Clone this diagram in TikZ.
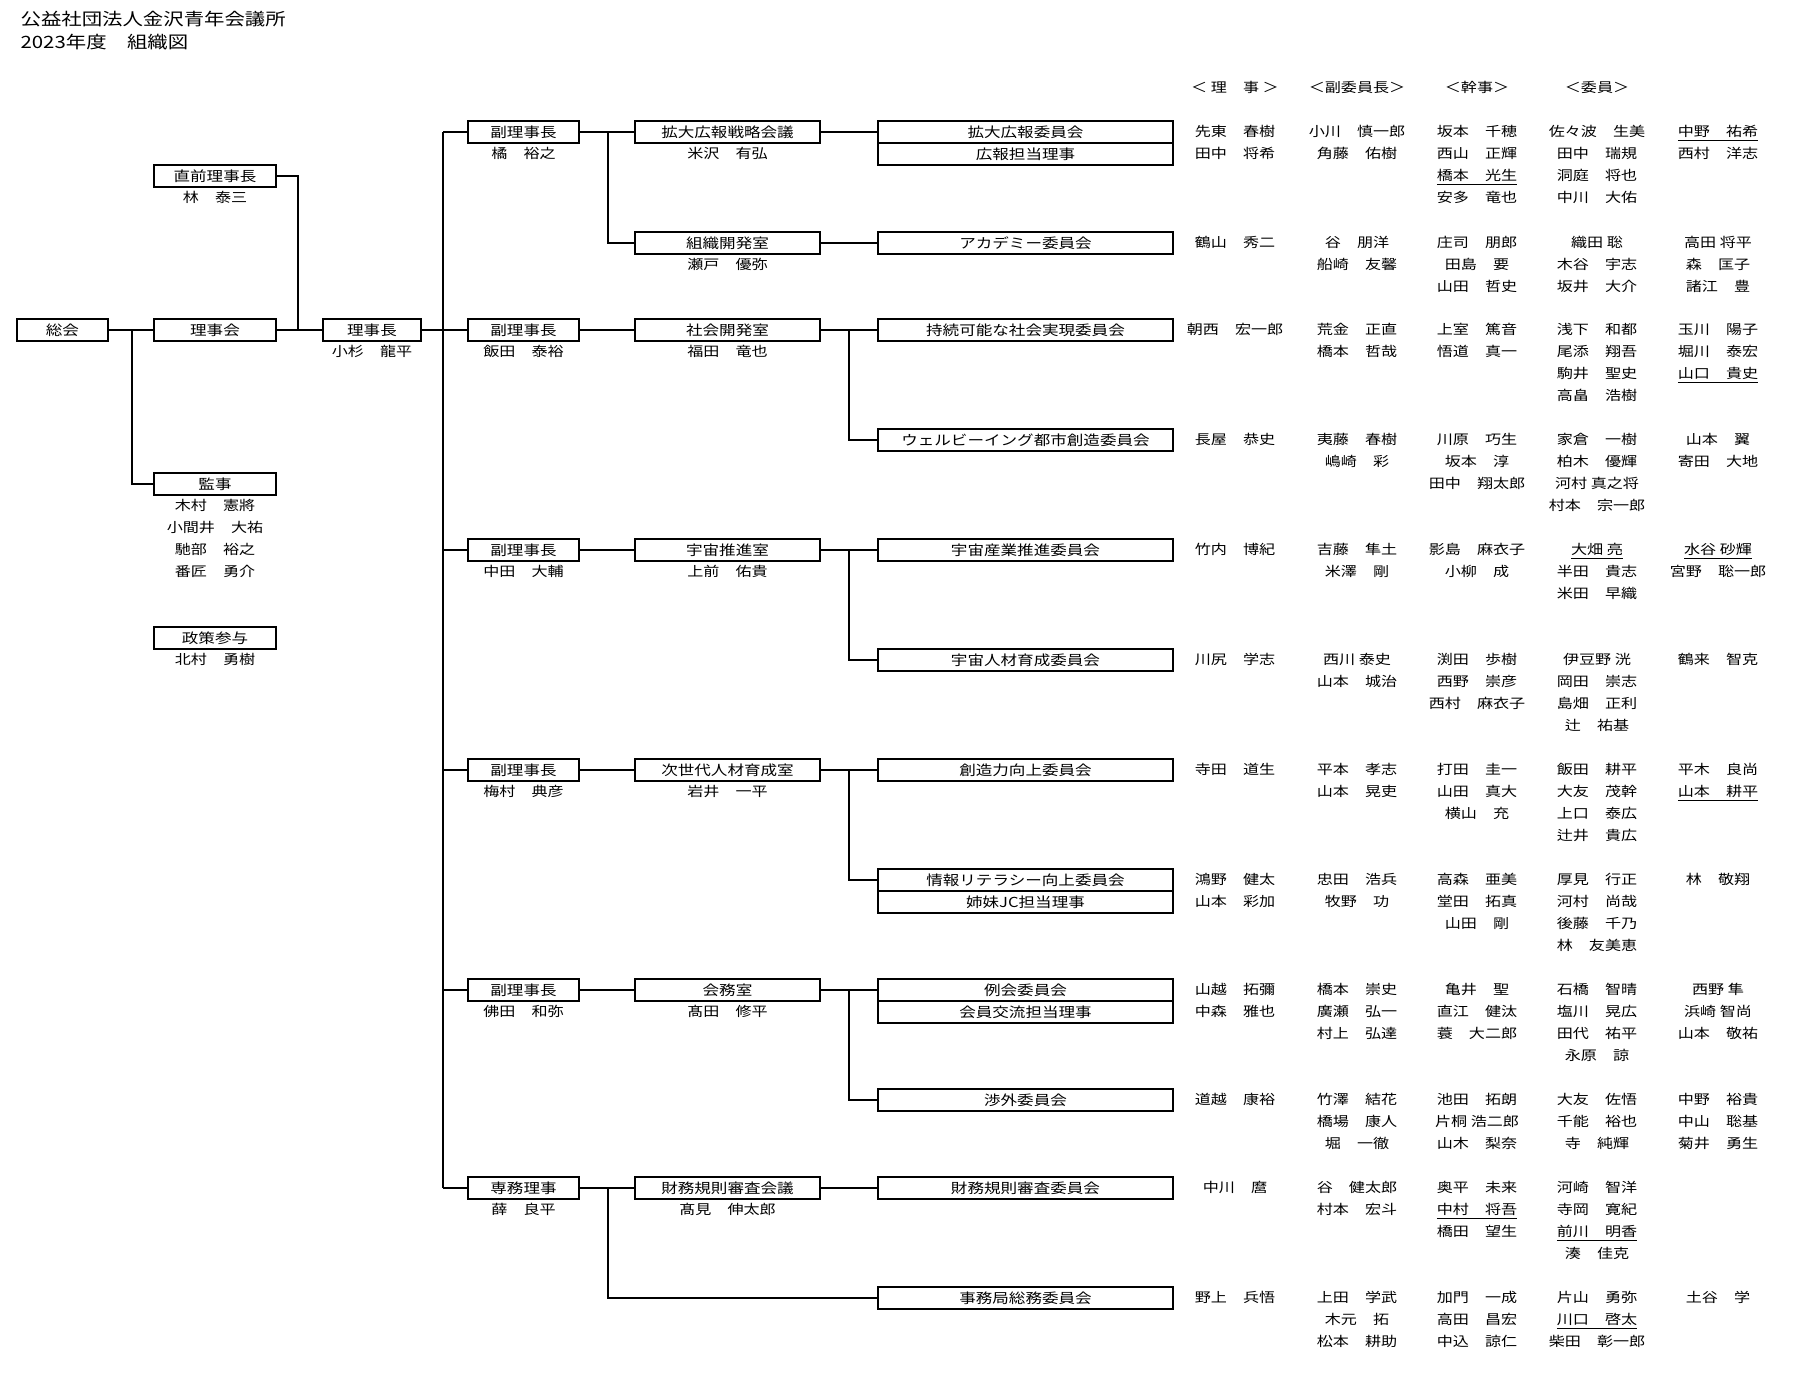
\documentclass[tikz,border=0pt]{standalone}
\usepackage{fontspec}
\setmainfont{Noto Sans CJK JP}[FakeStretch=1.2]
\usepackage{tikz}

\begin{document}
\begin{tikzpicture}[x=0.5pt,y=-0.5pt,line width=0.6pt,
    box/.style={draw,rectangle,inner sep=0pt,minimum height=11pt,font=\fontsize{6.9pt}{8pt}\selectfont},
    sokaibox/.style={box,minimum width=45.5pt},
    leftbox/.style={box,minimum width=61pt},
    chobox/.style={box,minimum width=49pt},
    fukubox/.style={box,minimum width=55.5pt},
    shitsubox/.style={box,minimum width=92.5pt},
    iinbox/.style={box,minimum width=147.5pt},
    nm/.style={inner sep=0pt,font=\fontsize{6.7pt}{11pt}\selectfont},
    col/.style={nm,anchor=north,align=center}]
            \useasboundingbox (0,0) rectangle (1816,1380);
            \node[anchor=north west,align=left,inner sep=0pt,font=\fontsize{8.5pt}{11.5pt}\selectfont] (title) at (20,11) {公益社団法人金沢青年会議所\\2023年度　組織図};

            \node[sokaibox] (sokai) at (62.5,330) {総会};
            \node[leftbox] (zenriji) at (215,176) {直前理事長};
            \node[nm] (zenrijin) at (215,197) {林　泰三};
            \node[leftbox] (rijikai) at (215,330) {理事会};
            \node[leftbox] (kanji) at (215,484) {監事};
            \node[col] (kanjin) at (215,499) {木村　憲將\\小間井　大祐\\馳部　裕之\\番匠　勇介};
            \node[leftbox] (seisaku) at (215,638) {政策参与};
            \node[nm] (seisakun) at (215,659) {北村　勇樹};
            \node[chobox] (rijicho) at (372,330) {理事長};
            \node[nm] (rijichon) at (372,351) {小杉　龍平};

            \coordinate (jsokai) at (132,330);
            \coordinate (jriji) at (298,330);
            \coordinate (trunktop) at (443,132);
            \coordinate (trunkbot) at (443,1188);
            \draw (sokai) -- (rijikai);
            \draw (jsokai) |- (kanji.west);
            \draw (rijikai) -- (rijicho);
            \draw (zenriji.east) -| (jriji);
            \draw (rijicho.east) -- (rijicho.east -| trunktop);
            \draw (trunktop) -- (trunkbot);

            \node[fukubox] (fuku1) at (523.5,132) {副理事長};
            \node[nm] (fuku1n) at (523.5,153) {橘　裕之};
            \node[shitsubox] (shitsu1) at (727.5,132) {拡大広報戦略会議};
            \node[nm] (shitsu1n) at (727.5,153) {米沢　有弘};
            \node[shitsubox] (shitsu1b) at (727.5,243) {組織開発室};
            \node[nm] (shitsu1bn) at (727.5,264) {瀬戸　優弥};
            \node[iinbox] (iin1a) at (1025.5,132) {拡大広報委員会};
            \node[iinbox] (iin1a2) at (1025.5,154) {広報担当理事};
            \node[iinbox] (iin1b) at (1025.5,243) {アカデミー委員会};
            \coordinate (jf1) at (608,132);
            \draw (trunktop) -- (fuku1);
            \draw (fuku1) -- (shitsu1);
            \draw (jf1) |- (shitsu1b.west);
            \draw (shitsu1) -- (iin1a);
            \draw (shitsu1b) -- (iin1b);

            \node[fukubox] (fuku2) at (523.5,330) {副理事長};
            \node[nm] (fuku2n) at (523.5,351) {飯田　泰裕};
            \node[shitsubox] (shitsu2) at (727.5,330) {社会開発室};
            \node[nm] (shitsu2n) at (727.5,351) {福田　竜也};
            \node[iinbox] (iin2a) at (1025.5,330) {持続可能な社会実現委員会};
            \node[iinbox] (iin2b) at (1025.5,440) {ウェルビーイング都市創造委員会};
            \coordinate (js2) at (849,330);
            \draw (fuku2.west -| trunktop) -- (fuku2);
            \draw (fuku2) -- (shitsu2);
            \draw (shitsu2) -- (iin2a);
            \draw (js2) |- (iin2b.west);

            \node[fukubox] (fuku3) at (523.5,550) {副理事長};
            \node[nm] (fuku3n) at (523.5,571) {中田　大輔};
            \node[shitsubox] (shitsu3) at (727.5,550) {宇宙推進室};
            \node[nm] (shitsu3n) at (727.5,571) {上前　佑貴};
            \node[iinbox] (iin3a) at (1025.5,550) {宇宙産業推進委員会};
            \node[iinbox] (iin3b) at (1025.5,660) {宇宙人材育成委員会};
            \coordinate (js3) at (849,550);
            \draw (fuku3.west -| trunktop) -- (fuku3);
            \draw (fuku3) -- (shitsu3);
            \draw (shitsu3) -- (iin3a);
            \draw (js3) |- (iin3b.west);

            \node[fukubox] (fuku4) at (523.5,770) {副理事長};
            \node[nm] (fuku4n) at (523.5,791) {梅村　典彦};
            \node[shitsubox] (shitsu4) at (727.5,770) {次世代人材育成室};
            \node[nm] (shitsu4n) at (727.5,791) {岩井　一平};
            \node[iinbox] (iin4a) at (1025.5,770) {創造力向上委員会};
            \node[iinbox] (iin4b) at (1025.5,880) {情報リテラシー向上委員会};
            \node[iinbox] (iin4b2) at (1025.5,902) {姉妹JC担当理事};
            \coordinate (js4) at (849,770);
            \draw (fuku4.west -| trunktop) -- (fuku4);
            \draw (fuku4) -- (shitsu4);
            \draw (shitsu4) -- (iin4a);
            \draw (js4) |- (iin4b.west);

            \node[fukubox] (fuku5) at (523.5,990) {副理事長};
            \node[nm] (fuku5n) at (523.5,1011) {佛田　和弥};
            \node[shitsubox] (shitsu5) at (727.5,990) {会務室};
            \node[nm] (shitsu5n) at (727.5,1011) {髙田　修平};
            \node[iinbox] (iin5a) at (1025.5,990) {例会委員会};
            \node[iinbox] (iin5a2) at (1025.5,1012) {会員交流担当理事};
            \node[iinbox] (iin5b) at (1025.5,1100) {渉外委員会};
            \coordinate (js5) at (849,990);
            \draw (fuku5.west -| trunktop) -- (fuku5);
            \draw (fuku5) -- (shitsu5);
            \draw (shitsu5) -- (iin5a);
            \draw (js5) |- (iin5b.west);

            \node[fukubox] (senmu) at (523.5,1188) {専務理事};
            \node[nm] (senmun) at (523.5,1209) {薛　良平};
            \node[shitsubox] (shitsu6) at (727.5,1188) {財務規則審査会議};
            \node[nm] (shitsu6n) at (727.5,1209) {髙見　伸太郎};
            \node[iinbox] (iin6a) at (1025.5,1188) {財務規則審査委員会};
            \node[iinbox] (iin6b) at (1025.5,1298) {事務局総務委員会};
            \coordinate (jf6) at (608,1188);
            \draw (trunkbot) -- (senmu);
            \draw (senmu) -- (shitsu6);
            \draw (shitsu6) -- (iin6a);
            \draw (jf6) |- (iin6b.west);

            \node[nm] (hriji) at (1235,87) {＜ 理　事 ＞};
            \node[nm] (hfuku) at (1357,87) {＜副委員長＞};
            \node[nm] (hkanji) at (1477,87) {＜幹事＞};
            \node[nm] (hiin) at (1597,87) {＜委員＞};

            \node[col] (r1riji) at (1235,125) {先東　春樹\\田中　将希};
            \node[col] (r1fuku) at (1357,125) {小川　慎一郎\\角藤　佑樹};
            \node[col] (r1kanji) at (1477,125) {坂本　千穂\\西山　正輝\\\underline{橋本　光生}\\安多　竜也};
            \node[col] (r1iin) at (1597,125) {佐々波　生美\\田中　瑞規\\洞庭　将也\\中川　大佑};
            \node[col] (r1iinb) at (1718,125) {\underline{中野　祐希}\\西村　洋志};

            \node[col] (r2riji) at (1235,236) {鶴山　秀二};
            \node[col] (r2fuku) at (1357,236) {谷　朋洋\\船崎　友馨};
            \node[col] (r2kanji) at (1477,236) {庄司　朋郎\\田島　要\\山田　哲史};
            \node[col] (r2iin) at (1597,236) {織田 聡\\木谷　宇志\\坂井　大介};
            \node[col] (r2iinb) at (1718,236) {高田 将平\\森　匡子\\諸江　豊};

            \node[col] (r3riji) at (1235,323) {朝西　宏一郎};
            \node[col] (r3fuku) at (1357,323) {荒金　正直\\橋本　哲哉};
            \node[col] (r3kanji) at (1477,323) {上室　篤音\\悟道　真一};
            \node[col] (r3iin) at (1597,323) {浅下　和都\\尾添　翔吾\\駒井　聖史\\高畠　浩樹};
            \node[col] (r3iinb) at (1718,323) {玉川　陽子\\堀川　泰宏\\\underline{山口　貴史}};

            \node[col] (r4riji) at (1235,433) {長屋　恭史};
            \node[col] (r4fuku) at (1357,433) {夷藤　春樹\\嶋崎　彩};
            \node[col] (r4kanji) at (1477,433) {川原　巧生\\坂本　淳\\田中　翔太郎};
            \node[col] (r4iin) at (1597,433) {家倉　一樹\\柏木　優輝\\河村 真之将\\村本　宗一郎};
            \node[col] (r4iinb) at (1718,433) {山本　翼\\寄田　大地};

            \node[col] (r5riji) at (1235,543) {竹内　博紀};
            \node[col] (r5fuku) at (1357,543) {吉藤　隼土\\米澤　剛};
            \node[col] (r5kanji) at (1477,543) {影島　麻衣子\\小柳　成};
            \node[col] (r5iin) at (1597,543) {\underline{大畑 亮}\\半田　貴志\\米田　早織};
            \node[col] (r5iinb) at (1718,543) {\underline{水谷 砂輝}\\宮野　聡一郎};

            \node[col] (r6riji) at (1235,653) {川尻　学志};
            \node[col] (r6fuku) at (1357,653) {西川 泰史\\山本　城治};
            \node[col] (r6kanji) at (1477,653) {渕田　歩樹\\西野　崇彦\\西村　麻衣子};
            \node[col] (r6iin) at (1597,653) {伊豆野 洸\\岡田　崇志\\島畑　正利\\辻　祐基};
            \node[col] (r6iinb) at (1718,653) {鶴来　智克};

            \node[col] (r7riji) at (1235,763) {寺田　道生};
            \node[col] (r7fuku) at (1357,763) {平本　孝志\\山本　晃吏};
            \node[col] (r7kanji) at (1477,763) {打田　圭一\\山田　真大\\横山　充};
            \node[col] (r7iin) at (1597,763) {飯田　耕平\\大友　茂幹\\上口　泰広\\辻井　貴広};
            \node[col] (r7iinb) at (1718,763) {平木　良尚\\\underline{山本　耕平}};

            \node[col] (r8riji) at (1235,873) {鴻野　健太\\山本　彩加};
            \node[col] (r8fuku) at (1357,873) {忠田　浩兵\\牧野　功};
            \node[col] (r8kanji) at (1477,873) {高森　亜美\\堂田　拓真\\山田　剛};
            \node[col] (r8iin) at (1597,873) {厚見　行正\\河村　尚哉\\後藤　千乃\\林　友美恵};
            \node[col] (r8iinb) at (1718,873) {林　敬翔};

            \node[col] (r9riji) at (1235,983) {山越　拓彌\\中森　雅也};
            \node[col] (r9fuku) at (1357,983) {橋本　崇史\\廣瀬　弘一\\村上　弘達};
            \node[col] (r9kanji) at (1477,983) {亀井　聖\\直江　健汰\\蓑　大二郎};
            \node[col] (r9iin) at (1597,983) {石橋　智晴\\塩川　晃広\\田代　祐平\\永原　諒};
            \node[col] (r9iinb) at (1718,983) {西野 隼\\浜崎 智尚\\山本　敬祐};

            \node[col] (r10riji) at (1235,1093) {道越　康裕};
            \node[col] (r10fuku) at (1357,1093) {竹澤　結花\\橋場　康人\\堀　一徹};
            \node[col] (r10kanji) at (1477,1093) {池田　拓朗\\片桐 浩二郎\\山木　梨奈};
            \node[col] (r10iin) at (1597,1093) {大友　佐悟\\千能　裕也\\寺　純輝};
            \node[col] (r10iinb) at (1718,1093) {中野　裕貴\\中山　聡基\\菊井　勇生};

            \node[col] (r11riji) at (1235,1181) {中川　麿};
            \node[col] (r11fuku) at (1357,1181) {谷　健太郎\\村本　宏斗};
            \node[col] (r11kanji) at (1477,1181) {奥平　未来\\\underline{中村　将吾}\\橋田　望生};
            \node[col] (r11iin) at (1597,1181) {河崎　智洋\\寺岡　寛紀\\\underline{前川　明香}\\湊　佳克};

            \node[col] (r12riji) at (1235,1291) {野上　兵悟};
            \node[col] (r12fuku) at (1357,1291) {上田　学武\\木元　拓\\松本　耕助};
            \node[col] (r12kanji) at (1477,1291) {加門　一成\\高田　昌宏\\中込　諒仁};
            \node[col] (r12iin) at (1597,1291) {片山　勇弥\\\underline{川口　啓太}\\柴田　彰一郎};
            \node[col] (r12iinb) at (1718,1291) {土谷　学};
        \end{tikzpicture}
\end{document}
